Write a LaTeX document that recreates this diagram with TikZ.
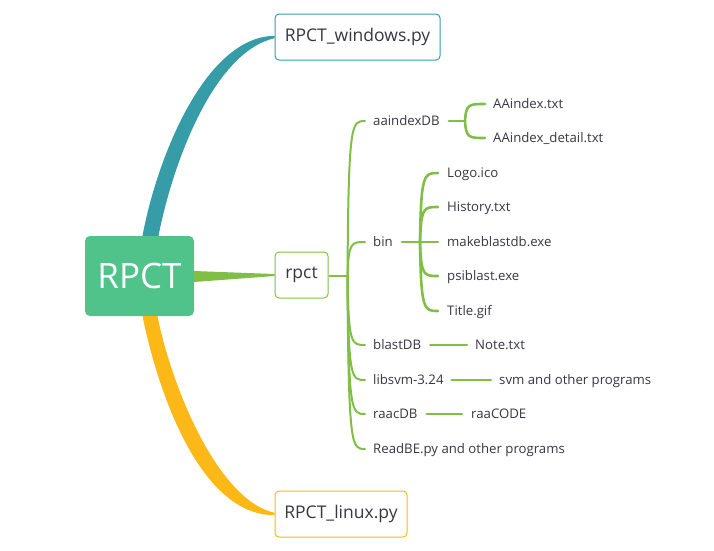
\documentclass[tikz,border=0pt]{standalone}
\usepackage{fontspec}
\setmainfont{Open Sans}
\usetikzlibrary{calc}
\definecolor{tealc}{RGB}{54,157,168}
\definecolor{yelc}{RGB}{251,184,22}
\definecolor{lg}{RGB}{128,190,70}
\definecolor{rootg}{RGB}{80,195,139}
\definecolor{ink}{RGB}{55,55,65}
\begin{document}
\begin{tikzpicture}[x=1pt,y=-1pt,
  txt/.style={anchor=west,inner sep=0pt,text height=9pt,text depth=0pt,font=\fontsize{13.2}{15}\selectfont,text=ink},
  box/.style={rounded corners=4pt,line width=1pt,fill=white,font=\fontsize{17.5}{20}\selectfont,text=ink,inner sep=0pt,minimum height=46pt},
  gl/.style={draw=lg,line width=2pt,line cap=round},
  gl2/.style={draw=lg,line width=2.6pt,line cap=round}]
\useasboundingbox (0,0) rectangle (714,550);

% main nodes
\node[fill=rootg,rounded corners=5pt,minimum width=109pt,minimum height=80pt,inner sep=0pt,
      text=white,font=\fontsize{35}{40}\selectfont] (root) at (139.5,276) {RPCT};
\node[box,draw=tealc,minimum width=165pt] (win) at (357.5,37) {RPCT\_windows.py};
\node[box,draw=lg,minimum width=53pt] (rpct) at (301.5,275) {rpct};
\node[box,draw=yelc,minimum width=132pt] (lin) at (341,514) {RPCT\_linux.py};

% tapered main branches
\fill[tealc] ($(root.north)+(3,0)$) .. controls (157,158) and (205,36.8) .. ($(win.west)+(0,-1.2)$)
  -- ($(win.west)+(0,1.2)$) .. controls (214,52) and (173,162) .. ($(root.north)+(19,0)$) -- cycle;
\fill[yelc] ($(root.south)+(3,0)$) .. controls (158,392) and (200,515.2) .. ($(lin.west)+(0,1.2)$)
  -- ($(lin.west)+(0,-1.2)$) .. controls (218,500) and (172,388) .. ($(root.south)+(18,0)$) -- cycle;
\fill[lg] ($(root.east)+(0,-5)$) -- ($(rpct.west)+(0,-1)$) -- ($(rpct.west)+(0,1)$) -- ($(root.east)+(0,6)$) -- cycle;

% level 1 texts
\node[txt] (aaindexDB) at (373,121) {aaindexDB};
\node[txt] (bin) at (373,242) {bin};
\node[txt] (blastDB) at (373,345) {blastDB};
\node[txt] (libsvm) at (373,380) {libsvm-3.24};
\node[txt] (raacDB) at (373,414) {raacDB};
\node[txt] (readbe) at (373,449) {ReadBE.py and other programs};

% level 2 texts
\node[txt] (aai) at (493,104) {AAindex.txt};
\node[txt] (aad) at (493,138) {AAindex\_detail.txt};
\node[txt] (logo) at (447,173) {Logo.ico};
\node[txt] (hist) at (447,207) {History.txt};
\node[txt] (mkdb) at (447,242) {makeblastdb.exe};
\node[txt] (psib) at (447,276) {psiblast.exe};
\node[txt] (title) at (447,311) {Title.gif};
\node[txt] (note) at (475,345) {Note.txt};
\node[txt] (svm) at (499,380) {svm and other programs};
\node[txt] (raacode) at (471,414) {raaCODE};

% rpct trunk
\coordinate (f0) at ($(rpct.east)+(19,1)$);
\draw[gl2,line cap=butt] (rpct.east |- f0) -- (f0);
\foreach \c in {aaindexDB,bin,blastDB,libsvm,raacDB,readbe}
  \draw[gl] (f0) .. controls ($(f0 |- \c.west)+(1,0)$) and ($(f0 |- \c.west)+(4,0)$) .. ($(\c.west)+(-8,0)$);

% aaindexDB sub-branches
\coordinate (fa) at ($(aai.west |- aaindexDB.west)+(-28,0)$);
\draw[gl2] ($(aaindexDB.east)+(9,0)$) -- (fa);
\foreach \c in {aai,aad}
  \draw[gl2] (fa) .. controls ($(fa |- \c.west)+(1,0)$) and ($(fa |- \c.west)+(4,0)$) .. ($(\c.west)+(-8,0)$);

% bin sub-branches
\coordinate (fb) at ($(logo.west |- bin.west)+(-27,0)$);
\draw[gl2] ($(bin.east)+(9,0)$) -- (fb);
\foreach \c in {logo,hist,mkdb,psib,title}
  \draw[gl2] (fb) .. controls ($(fb |- \c.west)+(1,0)$) and ($(fb |- \c.west)+(4,0)$) .. ($(\c.west)+(-9,0)$);

% single children
\draw[gl2] ($(blastDB.east)+(9,0)$) -- ($(note.west)+(-8,0)$);
\draw[gl2] ($(libsvm.east)+(8,0)$) -- ($(svm.west)+(-8,0)$);
\draw[gl2] ($(raacDB.east)+(9,0)$) -- ($(raacode.west)+(-9,0)$);
\end{tikzpicture}
\end{document}
